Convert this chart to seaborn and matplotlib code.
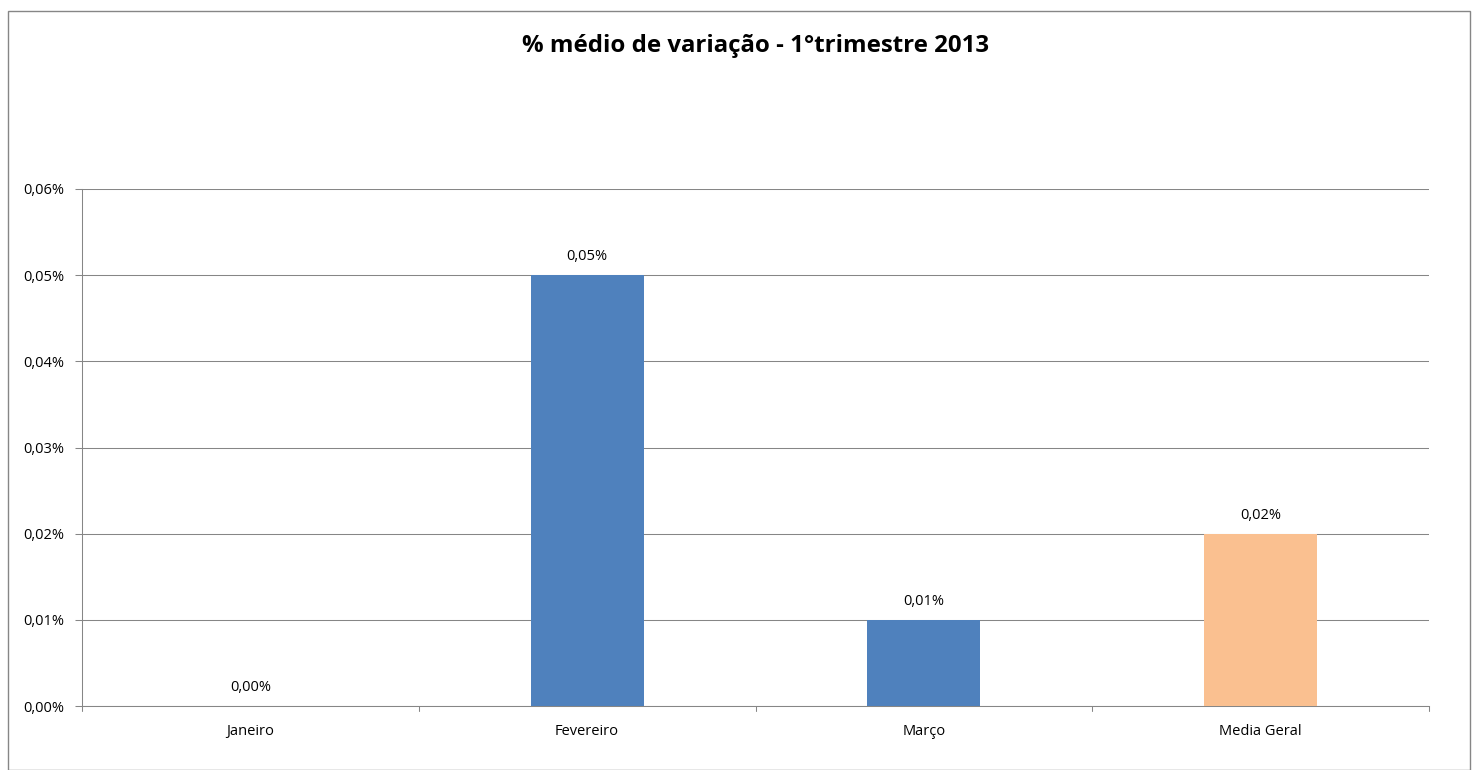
import matplotlib
matplotlib.use("Agg")
import matplotlib.pyplot as plt
import seaborn as sns
import pandas as pd
from matplotlib.patches import Rectangle

categories = ["Janeiro", "Fevereiro", "Março", "Media Geral"]
values = [0.00, 0.05, 0.01, 0.02]
bar_colors = ["#4F81BD", "#4F81BD", "#4F81BD", "#FAC090"]
value_labels = ["0,00%", "0,05%", "0,01%", "0,02%"]
y_ticks = [0.00, 0.01, 0.02, 0.03, 0.04, 0.05, 0.06]
y_tick_labels = ["0,00%", "0,01%", "0,02%", "0,03%", "0,04%", "0,05%", "0,06%"]
title = "% médio de variação - 1°trimestre 2013"

sns.set_theme(style="white")
plt.rcParams['font.family'] = ['Open Sans', 'DejaVu Sans']

df = pd.DataFrame({"cat": categories, "val": values})

fig = plt.figure(figsize=(14.76, 7.70), dpi=100)
ax = fig.add_axes([82/1476, 1-706/770, (1429-82)/1476, (706-189)/770])

sns.barplot(data=df, x="cat", y="val", hue="cat", palette=bar_colors,
            width=0.335, legend=False, ax=ax, saturation=1, zorder=3,
            linewidth=0, edgecolor="none")

ax.set_ylim(0, 0.06)
ax.set_xlim(-0.5, len(categories) - 0.5)
ax.set_yticks(y_ticks)
ax.set_yticklabels(y_tick_labels, fontsize=10.5, color="#000000")
ax.set_xticks(range(len(categories)))
ax.set_xticklabels(categories, fontsize=10.5, color="#000000")
ax.tick_params(axis="x", length=0, pad=13)
ax.tick_params(axis="y", length=5, width=0.75, color="#868686", direction="out", left=True, pad=8)

# category boundary ticks
for b in [x - 0.5 for x in range(len(categories) + 1)]:
    ax.plot([b, b], [0, -0.0006], color="#868686", lw=0.75, clip_on=False, zorder=4)

ax.set_xlabel("")
ax.set_ylabel("")
ax.grid(axis="y", color="#868686", lw=0.75, zorder=0)
ax.grid(axis="x", visible=False)
for s in ["top", "right"]:
    ax.spines[s].set_visible(False)
for s in ["left", "bottom"]:
    ax.spines[s].set_color("#868686")
    ax.spines[s].set_linewidth(0.75)

for i, (v, lab) in enumerate(zip(values, value_labels)):
    ax.annotate(lab, (i, v), xytext=(0, 8), textcoords="offset points",
                ha="center", va="bottom", fontsize=10.5, color="#000000")

fig.text(755/1476, 1-46/770, title, ha="center", va="center",
         fontsize=17.3, fontweight="bold", color="#000000")

fig.patches.append(Rectangle((8/1476, 0.0), 1 - 14/1476, 1 - 11/770 - 0.0,
                             transform=fig.transFigure, fill=False,
                             edgecolor="#868686", lw=1))

fig.savefig("out.png", dpi=100, facecolor="white")
